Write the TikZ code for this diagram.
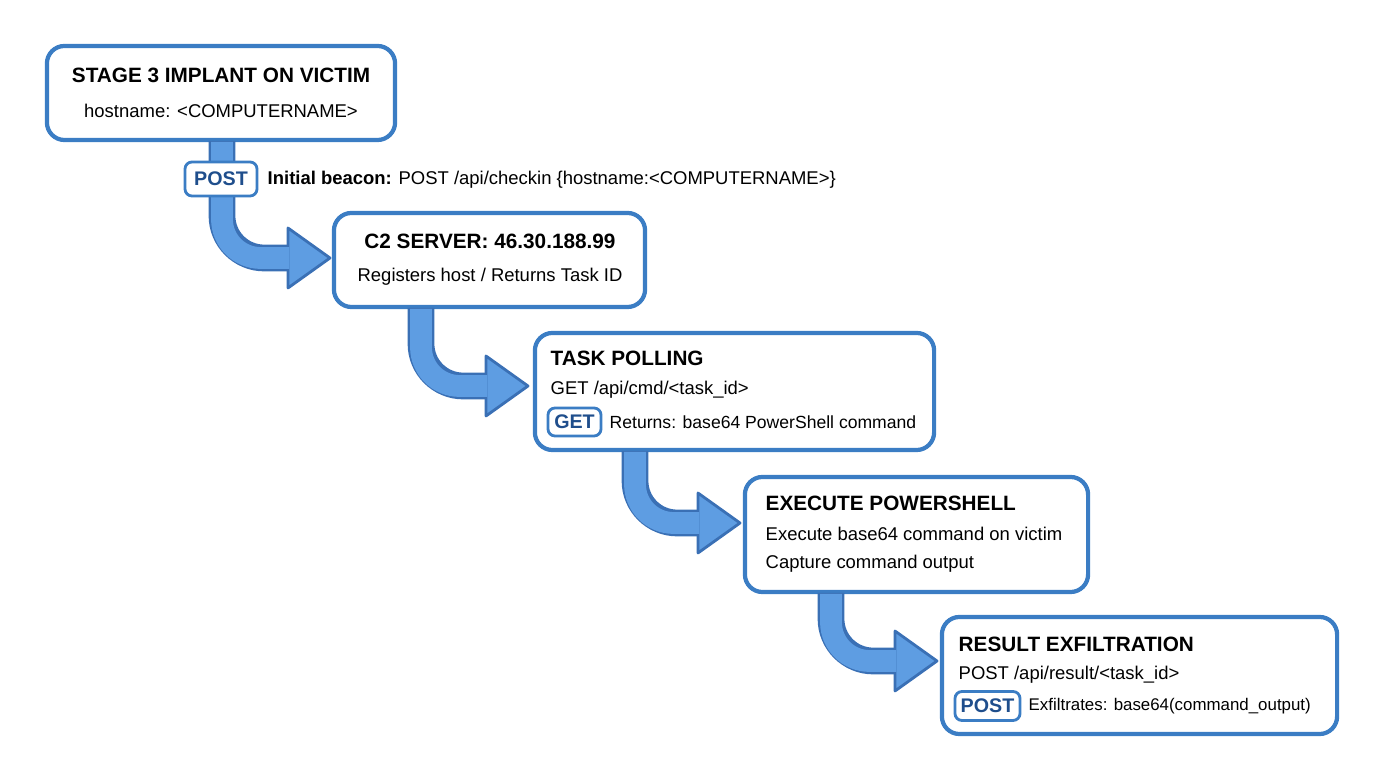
\documentclass[tikz,border=0pt]{standalone}
\usepackage{fontspec}
\setmainfont{Liberation Sans}
\usetikzlibrary{positioning}
\definecolor{boxline}{HTML}{3B7DC4}
\definecolor{flowfill}{HTML}{5E9DE2}
\definecolor{flowline}{HTML}{3A70B5}
\definecolor{tagtext}{HTML}{1F4E8C}
\tikzset{
  stage/.style={draw=boxline, line width=1.2pt, rounded corners=5pt, fill=white, inner sep=0pt},
  head/.style={font=\fontsize{5.9}{7}\selectfont\bfseries, inner sep=0pt},
  body/.style={font=\fontsize{5.25}{6}\selectfont, inner sep=0pt},
  tag/.style={draw=boxline, line width=0.8pt, rounded corners=2pt, fill=white, text=tagtext,
    font=\fontsize{5.6}{6}\selectfont\bfseries, inner sep=0pt},
}
\begin{document}
\begin{tikzpicture}[x=0.01cm, y=-0.01cm]
        \useasboundingbox (0,0) rectangle (1376,768);

        % Stufen
        \node[stage, minimum width=3.48cm, minimum height=0.94cm] (implant) at (221,93) {};
        \node[stage, minimum width=3.11cm, minimum height=0.94cm] (server) at (489.5,260) {};
        \node[stage, minimum width=3.99cm, minimum height=1.17cm] (polling) at (734.5,391.5) {};
        \node[stage, minimum width=3.43cm, minimum height=1.15cm] (execute) at (916.5,534.5) {};
        \node[stage, minimum width=3.95cm, minimum height=1.17cm] (exfil) at (1139.5,675.5) {};

        % Pfeile
        \foreach \x/\ya/\yb/\tip in {222/141/258/330, 421/308/386/528, 635/451/523/740, 831/593/661/937} {
          \draw[flowline, line width=7.6pt, rounded corners=12pt] (\x,\ya) -- (\x,\yb) -- (\tip-40,\yb);
          \draw[flowline, fill=flowfill, line width=0.8pt, line join=round]
            (\tip-42,\yb-30) -- (\tip,\yb) -- (\tip-42,\yb+30) -- cycle;
          \draw[flowfill, line width=6.2pt, rounded corners=11pt] (\x,\ya+1) -- (\x,\yb) -- (\tip-41,\yb);
        }

        % Texte
        \node[head] (implanttitle) at (221,75) {STAGE 3 IMPLANT ON VICTIM};
        \node[body] (implanthost) at (221,111) {hostname: <COMPUTERNAME>};

        \node[tag, minimum width=0.72cm, minimum height=0.34cm] (posttag) at (221,179) {POST};
        \node[body, anchor=west] (beacon) at (267,180) {\textbf{Initial beacon:} POST /api/checkin \{hostname:<COMPUTERNAME>\}};

        \node[head] (servertitle) at (490,241) {C2 SERVER: 46.30.188.99};
        \node[body] (serverbody) at (490,277) {Registers host / Returns Task ID};

        \node[head, anchor=west] (pollingtitle) at (550,358) {TASK POLLING};
        \node[body, anchor=west] (pollingget) at (550,390) {GET /api/cmd/<task\_id>};
        \node[tag, minimum width=0.53cm, minimum height=0.28cm] (gettag) at (574.5,422) {GET};
        \node[body, anchor=west, font=\fontsize{5.0}{6}\selectfont] (pollingret) at (609,422) {Returns: base64 PowerShell command};

        \node[head, anchor=west] (executetitle) at (765,503) {EXECUTE POWERSHELL};
        \node[body, anchor=west] (executerun) at (765,534) {Execute base64 command on victim};
        \node[body, anchor=west] (executecap) at (765,564) {Capture command output};

        \node[head, anchor=west] (exfiltitle) at (958,644) {RESULT EXFILTRATION};
        \node[body, anchor=west] (exfilpost) at (958,675) {POST /api/result/<task\_id>};
        \node[tag, minimum width=0.65cm, minimum height=0.29cm] (posttagtwo) at (987.5,706) {POST};
        \node[body, anchor=west, font=\fontsize{4.8}{5}\selectfont] (exfilret) at (1028,706) {Exfiltrates: base64(command\_output)};
\end{tikzpicture}
\end{document}
